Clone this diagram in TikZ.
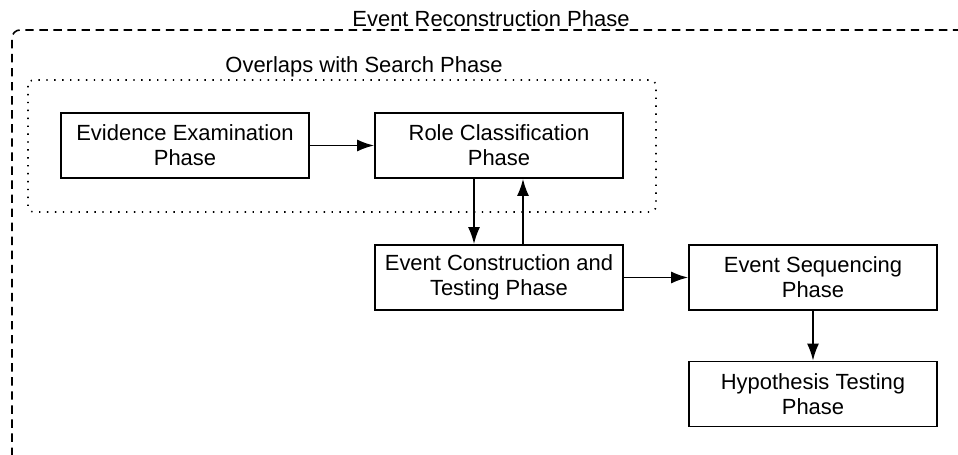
\documentclass[tikz,border=0pt]{standalone}
\usepackage{fontspec}
\setmainfont{Liberation Sans}
\usepackage{tikz}
\usetikzlibrary{arrows.meta}
\usetikzlibrary{positioning}

\tikzset{
    phasebox/.style={draw, rectangle, line width=1pt, minimum width=4.96cm, minimum height=1.3cm,
        inner sep=0pt, align=center, font=\fontsize{12.5}{14.2}\selectfont},
    grouptitle/.style={anchor=base, inner sep=0pt, font=\fontsize{12.5}{14.2}\selectfont},
    flow/.style={line width=1pt, -{Latex[length=3.4mm,width=2.4mm]}}
}

\begin{document}
\begin{tikzpicture}[x=0.02cm,y=-0.02cm]
            \useasboundingbox (0,0) rectangle (958,455);

            % outer group
            \draw[line width=0.9pt, dash pattern=on 4.8pt off 3.2pt, rounded corners=0.16cm]
                (12,470) -- (12,30) -- (975,30);
            \node[grouptitle] (recon) at (491,27) {Event Reconstruction Phase};

            % inner group
            \draw[line width=0.9pt, dash pattern=on 0.8pt off 3.7pt, rounded corners=0.12cm]
                (28,80) rectangle (656,212);
            \node[grouptitle] (search) at (364,73) {Overlaps with Search Phase};

            \node[phasebox] (evid) at (185,145.5) {Evidence Examination\\Phase};
            \node[phasebox] (role) at (499,145.5) {Role Classification\\Phase};
            \node[phasebox] (cons) at (499,277.5) {Event Construction and\\Testing Phase};
            \node[phasebox] (seq) at (813,277.5) {Event Sequencing\\Phase};
            \node[phasebox] (hyp) at (813,394) {Hypothesis Testing\\Phase};

            \draw[flow] (evid) -- (role);
            \draw[flow] ([xshift=-0.5cm]role.south) -- ([xshift=-0.5cm]cons.north);
            \draw[flow] ([xshift=0.48cm]cons.north) -- ([xshift=0.48cm]role.south);
            \draw[flow] (cons) -- (seq);
            \draw[flow] (seq) -- (hyp);
        \end{tikzpicture}
\end{document}
